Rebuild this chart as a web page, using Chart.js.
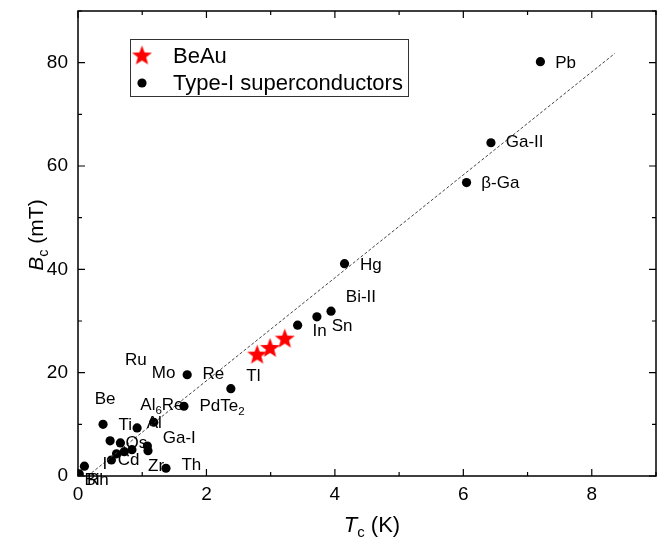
<!DOCTYPE html>
<html>
<head>
<meta charset="utf-8">
<script src="https://cdn.jsdelivr.net/npm/chart.js@4.4.1/dist/chart.umd.min.js"></script>
<style>
html, body { margin: 0; padding: 0; background: #fff; }
</style>
</head>
<body>
<canvas id="chart" width="667" height="546"></canvas>
<script>
// BeAu (red stars)
const beauTc = [2.79, 2.99, 3.22];
const beauBc = [23.4, 24.7, 26.5];

// Type-I superconductors (black dots)
const typeITc = [7.20, 6.43, 6.05, 4.15, 3.94, 3.72, 3.42, 1.70, 2.38, 1.65, 0.39, 0.92, 1.18,
                 0.50, 0.66, 1.08, 1.09, 0.60, 0.72, 0.84, 0.52, 1.37, 0.10, 0.02];
const typeIBc = [80.2, 64.5, 56.8, 41.1, 31.9, 30.8, 29.2, 19.6, 16.9, 13.5, 10.0, 9.3, 10.4,
                 6.8, 6.4, 5.8, 4.9, 4.3, 4.7, 5.1, 3.1, 1.5, 1.9, 0.4];

// dashed guide line
const fitTc = [0.15, 8.36];
const fitBc = [0, 81.8];

const xTicks = [0, 2, 4, 6, 8];
const yTicks = [0, 20, 40, 60, 80];

// element labels ("_" = next char is a subscript)
const labelText = ['Pb', 'Ga-II', 'β-Ga', 'Hg', 'Bi-II', 'Sn', 'In', 'Tl', 'Re', 'Mo', 'Ru',
                   'PdTe_2', 'Al_6Re', 'Be', 'Ti', 'Al', 'Ga-I', 'Os', 'Cd', 'I', 'Zr', 'Th', 'Bi', 'Rh'];
const labelTc = [7.43, 6.66, 6.28, 4.39, 4.17, 3.95, 3.65, 2.62, 1.94, 1.15, 0.73,
                 1.89, 0.97, 0.26, 0.63, 1.07, 1.32, 0.74, 0.62, 0.38, 1.09, 1.61, 0.10, 0.14];
const labelBc = [79.9, 64.5, 56.6, 40.7, 34.6, 29.0, 28.0, 19.3, 19.7, 19.9, 22.4,
                 13.5, 13.7, 14.9, 9.8, 10.2, 7.3, 6.4, 3.1, 2.3, 1.9, 2.0, -0.8, -0.8];

const FONT = '"Liberation Sans", Arial, sans-serif';

// filled 5-point star used as point style
function makeStar(r, color) {
    const c = document.createElement('canvas');
    const s = Math.ceil(r * 2 + 2);
    c.width = s; c.height = s;
    const g = c.getContext('2d');
    g.fillStyle = color;
    g.beginPath();
    for (let i = 0; i < 10; i++) {
        const rr = i % 2 === 0 ? r : r * 0.42;
        const a = -Math.PI / 2 + i * Math.PI / 5;
        const px = s / 2 + rr * Math.cos(a), py = s / 2 + rr * Math.sin(a);
        if (i === 0) g.moveTo(px, py); else g.lineTo(px, py);
    }
    g.closePath();
    g.fill();
    return c;
}
const starImg = makeStar(10.5, '#ff0000');

function parseRich(str) {
    const parts = [];
    let buf = '';
    for (let i = 0; i < str.length; i++) {
        if (str[i] === '_' && i + 1 < str.length) {
            if (buf) parts.push({ t: buf });
            buf = '';
            parts.push({ t: str[i + 1], sub: true });
            i++;
        } else buf += str[i];
    }
    if (buf) parts.push({ t: buf });
    return parts;
}

function richWidth(ctx, parts, size) {
    let w = 0;
    parts.forEach(p => {
        ctx.font = (p.italic ? 'italic ' : '') + (p.sub ? size * 0.68 : size) + 'px ' + FONT;
        w += ctx.measureText(p.t).width;
    });
    return w;
}

function drawRich(ctx, parts, x, y, size) {
    let cx = x;
    parts.forEach(p => {
        const fs = p.sub ? size * 0.68 : size;
        ctx.font = (p.italic ? 'italic ' : '') + fs + 'px ' + FONT;
        ctx.fillText(p.t, cx, p.sub ? y + size * 0.32 : y);
        cx += ctx.measureText(p.t).width;
    });
}

const framePlugin = {
    id: 'frame',
    afterDatasetsDraw(chart) {
        const ctx = chart.ctx;
        const a = chart.chartArea;
        const xs = chart.scales.x, ys = chart.scales.y;
        ctx.save();

        // labels next to points
        ctx.fillStyle = '#000';
        ctx.textBaseline = 'middle';
        ctx.textAlign = 'left';
        labelText.forEach((t, i) => {
            drawRich(ctx, parseRich(t), xs.getPixelForValue(labelTc[i]), ys.getPixelForValue(labelBc[i]), 17);
        });

        // frame
        ctx.strokeStyle = '#000';
        ctx.lineWidth = 1.5;
        ctx.strokeRect(a.left, a.top, a.right - a.left, a.bottom - a.top);

        // inward ticks on all four sides
        ctx.lineWidth = 1.2;
        ctx.beginPath();
        for (let v = 0; v <= 9; v++) {
            const px = xs.getPixelForValue(v);
            const len = v % 2 === 0 ? 7 : 4;
            ctx.moveTo(px, a.bottom); ctx.lineTo(px, a.bottom - len);
            ctx.moveTo(px, a.top); ctx.lineTo(px, a.top + len);
        }
        for (let v = 0; v <= 90; v += 10) {
            const py = ys.getPixelForValue(v);
            const len = v % 20 === 0 ? 7 : 4;
            ctx.moveTo(a.left, py); ctx.lineTo(a.left + len, py);
            ctx.moveTo(a.right, py); ctx.lineTo(a.right - len, py);
        }
        ctx.stroke();

        // axis titles
        ctx.textBaseline = 'middle';
        const xt = [{ t: 'T', italic: true }, { t: 'c', sub: true }, { t: ' (K)' }];
        const xw = richWidth(ctx, xt, 22);
        drawRich(ctx, xt, 372 - xw / 2, 526, 22);

        const yt = [{ t: 'B', italic: true }, { t: 'c', sub: true }, { t: ' (mT)' }];
        const yw = richWidth(ctx, yt, 21);
        ctx.save();
        ctx.translate(37, 235);
        ctx.rotate(-Math.PI / 2);
        drawRich(ctx, yt, -yw / 2, 0, 21);
        ctx.restore();

        // legend
        ctx.lineWidth = 1;
        ctx.strokeStyle = '#333';
        ctx.strokeRect(130.5, 39.5, 278, 57);
        ctx.drawImage(starImg, 142 - starImg.width / 2, 56 - starImg.height / 2);
        ctx.fillStyle = '#000';
        ctx.beginPath();
        ctx.arc(142, 83, 4.6, 0, Math.PI * 2);
        ctx.fill();
        ctx.font = '22px ' + FONT;
        ctx.fillText('BeAu', 173, 57);
        ctx.fillText('Type-I superconductors', 173, 84);

        ctx.restore();
    }
};

new Chart(document.getElementById('chart'), {
    type: 'scatter',
    data: {
        datasets: [
            {
                type: 'line',
                label: 'guide',
                data: fitTc.map((x, i) => ({ x: x, y: fitBc[i] })),
                borderColor: '#444',
                borderWidth: 1,
                borderDash: [3, 2],
                pointRadius: 0,
                fill: false
            },
            {
                label: 'Type-I superconductors',
                data: typeITc.map((x, i) => ({ x: x, y: typeIBc[i] })),
                backgroundColor: '#000',
                borderWidth: 0,
                pointRadius: 4.6
            },
            {
                label: 'BeAu',
                data: beauTc.map((x, i) => ({ x: x, y: beauBc[i] })),
                pointStyle: starImg,
                pointRadius: 10
            }
        ]
    },
    options: {
        responsive: false,
        animation: false,
        devicePixelRatio: 1,
        layout: { padding: { top: 11, right: 8, left: 0, bottom: 0 } },
        plugins: {
            legend: { display: false },
            tooltip: { enabled: false }
        },
        scales: {
            x: {
                type: 'linear',
                min: 0, max: 9,
                afterBuildTicks: s => { s.ticks = xTicks.map(v => ({ value: v })); },
                afterFit: s => { s.height = 70; s.paddingLeft = 0; s.paddingRight = 0; },
                grid: { display: false, drawTicks: false },
                border: { display: false },
                ticks: { color: '#000', padding: 7, font: { family: FONT, size: 19 } }
            },
            y: {
                type: 'linear',
                min: 0, max: 90,
                afterBuildTicks: s => { s.ticks = yTicks.map(v => ({ value: v })); },
                afterFit: s => { s.width = 78; s.paddingTop = 0; s.paddingBottom = 0; },
                grid: { display: false, drawTicks: false },
                border: { display: false },
                ticks: { color: '#000', padding: 10, font: { family: FONT, size: 19 } }
            }
        }
    },
    plugins: [framePlugin]
});
</script>
</body>
</html>
